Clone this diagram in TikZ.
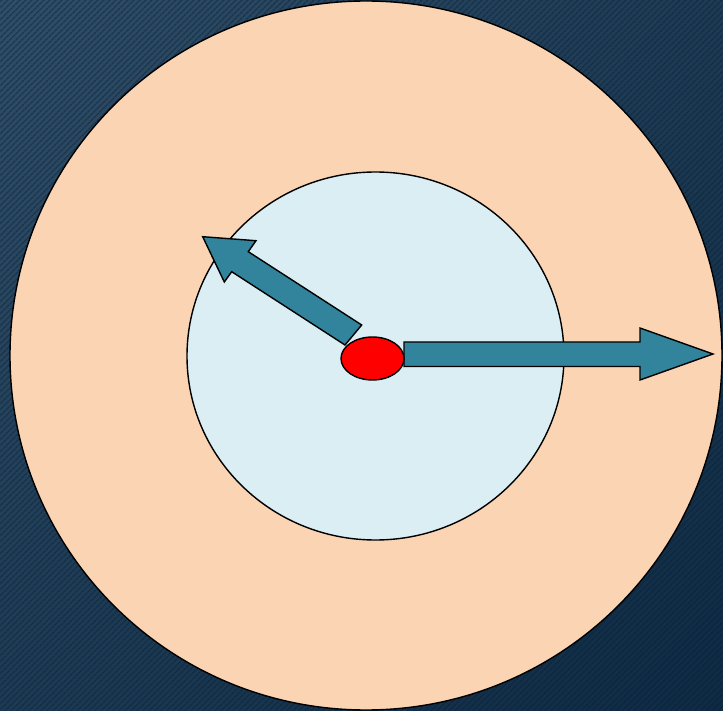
\documentclass[tikz,border=0pt]{standalone}
\usetikzlibrary{patterns.meta,shadings}
\definecolor{bgA}{HTML}{2F4E68}
\definecolor{bgB}{HTML}{0E2A44}
\definecolor{stripe}{HTML}{0A1E30}
\definecolor{outerfill}{HTML}{FBD4B4}
\definecolor{innerfill}{HTML}{DBEEF4}
\definecolor{arrowfill}{HTML}{31849B}
\tikzset{
  shape outline/.style={draw=black, line width=1.4pt, line join=miter},
  blockarrow/.style={shape outline, fill=arrowfill}
}
\begin{document}
\begin{tikzpicture}[x=1pt,y=-1pt]
\useasboundingbox (0,0) rectangle (723,711);
% background
\shade[upper left=bgA, lower right=bgB, upper right=bgB!55!bgA, lower left=bgB!55!bgA] (0,0) rectangle (723,711);
\fill[pattern={Lines[angle=45,distance=4pt,line width=1.6pt]}, pattern color=stripe, opacity=0.45] (0,0) rectangle (723,711);
% circles
\draw[shape outline, fill=outerfill] (366,355.5) ellipse [x radius=356, y radius=354.5];
\coordinate (outer) at (366,355.5);
\draw[shape outline, fill=innerfill] (375.5,356) ellipse [x radius=188.5, y radius=184];
\coordinate (inner) at (375.5,356);
% arrows
\draw[blockarrow] (345,345) -- (361.7,325) -- (248.3,251.7) -- (256,240.7) -- (202.7,236.7) -- (224.3,282) -- (231.7,271.7) -- cycle;
\draw[blockarrow] (404,342) -- (640,342) -- (640,328) -- (713,354) -- (640,380) -- (640,366.5) -- (404,366.5) -- cycle;
% red centre
\draw[shape outline, fill=red] (372.5,358.5) ellipse [x radius=31.5, y radius=21.5];
\coordinate (hub) at (372.5,358.5);
\end{tikzpicture}
\end{document}
